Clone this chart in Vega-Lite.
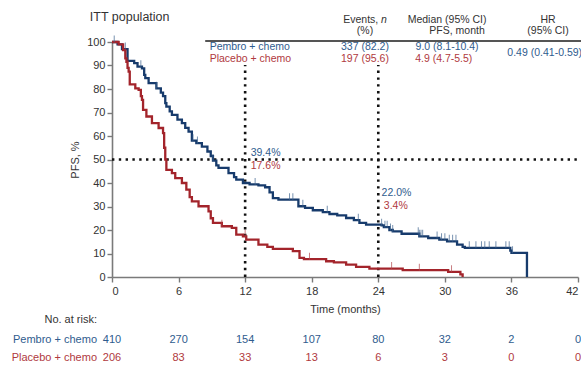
{
  "$schema": "https://vega.github.io/schema/vega-lite/v6.json",
  "width": 466,
  "height": 235,
  "autosize": "none",
  "padding": {"left": 112, "top": 42, "right": 3, "bottom": 88},
  "background": "white",
  "config": {
    "view": {"stroke": null},
    "font": "Liberation Sans",
    "text": {"font": "Liberation Sans", "fontSize": 11},
    "axis": {"labelFont": "Liberation Sans", "titleFont": "Liberation Sans"}
  },
  "encoding": {
    "x": {
      "field": "t", "type": "quantitative",
      "scale": {"domain": [0, 42], "nice": false, "zero": false},
      "axis": {"values": [0, 6, 12, 18, 24, 30, 36, 42], "title": "Time (months)", "grid": false,
        "domainColor": "#7a7a7a", "domainWidth": 1.6, "tickColor": "#7a7a7a", "tickWidth": 1.4, "tickSize": 5,
        "labelFontSize": 11, "labelColor": "#333", "labelPadding": 3, "titleFontSize": 11,
        "titleFontWeight": "normal", "titleColor": "#333", "titlePadding": 7}
    },
    "y": {
      "field": "s", "type": "quantitative",
      "scale": {"domain": [0, 100], "nice": false, "zero": false},
      "axis": {"values": [0, 10, 20, 30, 40, 50, 60, 70, 80, 90, 100], "title": "PFS, %", "grid": false,
        "domainColor": "#7a7a7a", "domainWidth": 1.6, "tickColor": "#7a7a7a", "tickWidth": 1.4, "tickSize": 5,
        "labelFontSize": 11, "labelColor": "#333", "labelPadding": 2, "titleFontSize": 11,
        "titleFontWeight": "normal", "titleColor": "#333", "titlePadding": 6}
    }
  },
  "layer": [
    {
      "data": {"values": [
        {"t": 0, "t2": 42.3, "s": 50, "s2": 50},
        {"t": 12, "t2": 12, "s": 0, "s2": 90.2},
        {"t": 24, "t2": 24, "s": 0, "s2": 90.2}
      ]},
      "mark": {"type": "rule", "color": "#111", "strokeWidth": 2.6, "strokeDash": [2.4, 4.4]},
      "encoding": {"x2": {"field": "t2"}, "y2": {"field": "s2"}}
    },
    {
      "data": {"values": [{"t": 8.4, "t2": 42.3, "s": 100.4, "s2": 100.4}]},
      "mark": {"type": "rule", "color": "#555", "strokeWidth": 2},
      "encoding": {"x2": {"field": "t2"}, "y2": {"field": "s2"}}
    },
    {
      "data": {"values": [
        {"grp": "Pembro + chemo", "t": 0, "s": 100}, {"grp": "Pembro + chemo", "t": 0.5, "s": 99},
        {"grp": "Pembro + chemo", "t": 0.9, "s": 97}, {"grp": "Pembro + chemo", "t": 1.4, "s": 92},
        {"grp": "Pembro + chemo", "t": 2.0, "s": 91}, {"grp": "Pembro + chemo", "t": 2.3, "s": 89.5},
        {"grp": "Pembro + chemo", "t": 2.7, "s": 88.8}, {"grp": "Pembro + chemo", "t": 2.9, "s": 86},
        {"grp": "Pembro + chemo", "t": 3.0, "s": 84.6}, {"grp": "Pembro + chemo", "t": 3.3, "s": 82.5},
        {"grp": "Pembro + chemo", "t": 4.0, "s": 80.3}, {"grp": "Pembro + chemo", "t": 4.4, "s": 78.5},
        {"grp": "Pembro + chemo", "t": 4.6, "s": 77}, {"grp": "Pembro + chemo", "t": 4.8, "s": 74},
        {"grp": "Pembro + chemo", "t": 4.9, "s": 72.5}, {"grp": "Pembro + chemo", "t": 5.2, "s": 70.5},
        {"grp": "Pembro + chemo", "t": 5.4, "s": 69}, {"grp": "Pembro + chemo", "t": 5.9, "s": 67},
        {"grp": "Pembro + chemo", "t": 6.3, "s": 65.5}, {"grp": "Pembro + chemo", "t": 6.6, "s": 63.5},
        {"grp": "Pembro + chemo", "t": 6.9, "s": 61.9}, {"grp": "Pembro + chemo", "t": 7.2, "s": 58},
        {"grp": "Pembro + chemo", "t": 7.6, "s": 57}, {"grp": "Pembro + chemo", "t": 8.1, "s": 55.5},
        {"grp": "Pembro + chemo", "t": 8.6, "s": 53.4}, {"grp": "Pembro + chemo", "t": 8.9, "s": 51.5},
        {"grp": "Pembro + chemo", "t": 9.1, "s": 49.5}, {"grp": "Pembro + chemo", "t": 9.4, "s": 47.5},
        {"grp": "Pembro + chemo", "t": 9.6, "s": 46.4}, {"grp": "Pembro + chemo", "t": 10.5, "s": 44.2},
        {"grp": "Pembro + chemo", "t": 11.0, "s": 42.5}, {"grp": "Pembro + chemo", "t": 11.2, "s": 41.4},
        {"grp": "Pembro + chemo", "t": 11.8, "s": 40}, {"grp": "Pembro + chemo", "t": 12.4, "s": 39.4},
        {"grp": "Pembro + chemo", "t": 13.2, "s": 39}, {"grp": "Pembro + chemo", "t": 13.8, "s": 38.2},
        {"grp": "Pembro + chemo", "t": 14.2, "s": 36}, {"grp": "Pembro + chemo", "t": 14.5, "s": 33.6},
        {"grp": "Pembro + chemo", "t": 15.0, "s": 32.9}, {"grp": "Pembro + chemo", "t": 16.8, "s": 30.1},
        {"grp": "Pembro + chemo", "t": 17.4, "s": 29.4}, {"grp": "Pembro + chemo", "t": 18.1, "s": 28.4},
        {"grp": "Pembro + chemo", "t": 19.0, "s": 27.6}, {"grp": "Pembro + chemo", "t": 19.6, "s": 26.8},
        {"grp": "Pembro + chemo", "t": 20.3, "s": 26.2}, {"grp": "Pembro + chemo", "t": 21.1, "s": 25.1},
        {"grp": "Pembro + chemo", "t": 21.8, "s": 24.2}, {"grp": "Pembro + chemo", "t": 22.3, "s": 23},
        {"grp": "Pembro + chemo", "t": 22.9, "s": 22.3}, {"grp": "Pembro + chemo", "t": 24.3, "s": 22.0},
        {"grp": "Pembro + chemo", "t": 24.5, "s": 21.2}, {"grp": "Pembro + chemo", "t": 25.0, "s": 20},
        {"grp": "Pembro + chemo", "t": 25.3, "s": 19.4}, {"grp": "Pembro + chemo", "t": 26.1, "s": 18.4},
        {"grp": "Pembro + chemo", "t": 27.7, "s": 17.3}, {"grp": "Pembro + chemo", "t": 28.5, "s": 16.6},
        {"grp": "Pembro + chemo", "t": 29.5, "s": 15.9}, {"grp": "Pembro + chemo", "t": 30.2, "s": 15.2},
        {"grp": "Pembro + chemo", "t": 31.1, "s": 13.8}, {"grp": "Pembro + chemo", "t": 31.6, "s": 12.8},
        {"grp": "Pembro + chemo", "t": 31.8, "s": 12.4}, {"grp": "Pembro + chemo", "t": 35.9, "s": 11.2},
        {"grp": "Pembro + chemo", "t": 36.0, "s": 10.3}, {"grp": "Pembro + chemo", "t": 37.4, "s": 0},
        {"grp": "Placebo + chemo", "t": 0, "s": 100}, {"grp": "Placebo + chemo", "t": 0.6, "s": 99},
        {"grp": "Placebo + chemo", "t": 1.0, "s": 96.6}, {"grp": "Placebo + chemo", "t": 1.2, "s": 93},
        {"grp": "Placebo + chemo", "t": 1.3, "s": 91.6}, {"grp": "Placebo + chemo", "t": 1.4, "s": 89},
        {"grp": "Placebo + chemo", "t": 1.5, "s": 87.4}, {"grp": "Placebo + chemo", "t": 1.6, "s": 82},
        {"grp": "Placebo + chemo", "t": 2.1, "s": 80.3}, {"grp": "Placebo + chemo", "t": 2.4, "s": 79.6},
        {"grp": "Placebo + chemo", "t": 2.6, "s": 77}, {"grp": "Placebo + chemo", "t": 2.7, "s": 75.4},
        {"grp": "Placebo + chemo", "t": 2.8, "s": 71.1}, {"grp": "Placebo + chemo", "t": 3.1, "s": 68.3},
        {"grp": "Placebo + chemo", "t": 3.6, "s": 65.5}, {"grp": "Placebo + chemo", "t": 4.2, "s": 63.4},
        {"grp": "Placebo + chemo", "t": 4.6, "s": 61.2}, {"grp": "Placebo + chemo", "t": 4.7, "s": 55},
        {"grp": "Placebo + chemo", "t": 4.8, "s": 50}, {"grp": "Placebo + chemo", "t": 4.9, "s": 45.6},
        {"grp": "Placebo + chemo", "t": 5.4, "s": 44.2}, {"grp": "Placebo + chemo", "t": 5.7, "s": 42.1},
        {"grp": "Placebo + chemo", "t": 6.3, "s": 40}, {"grp": "Placebo + chemo", "t": 6.7, "s": 37.2},
        {"grp": "Placebo + chemo", "t": 7.0, "s": 34}, {"grp": "Placebo + chemo", "t": 7.2, "s": 32.2},
        {"grp": "Placebo + chemo", "t": 7.8, "s": 30.1}, {"grp": "Placebo + chemo", "t": 8.7, "s": 27.9},
        {"grp": "Placebo + chemo", "t": 8.9, "s": 25}, {"grp": "Placebo + chemo", "t": 9.1, "s": 23},
        {"grp": "Placebo + chemo", "t": 9.9, "s": 21.6}, {"grp": "Placebo + chemo", "t": 10.8, "s": 20.9},
        {"grp": "Placebo + chemo", "t": 11.2, "s": 18}, {"grp": "Placebo + chemo", "t": 11.8, "s": 17.3},
        {"grp": "Placebo + chemo", "t": 12.1, "s": 15.9}, {"grp": "Placebo + chemo", "t": 13.2, "s": 13.8},
        {"grp": "Placebo + chemo", "t": 14.0, "s": 12.8}, {"grp": "Placebo + chemo", "t": 14.5, "s": 12},
        {"grp": "Placebo + chemo", "t": 16.3, "s": 11}, {"grp": "Placebo + chemo", "t": 16.9, "s": 8.1},
        {"grp": "Placebo + chemo", "t": 17.3, "s": 7.6}, {"grp": "Placebo + chemo", "t": 19.3, "s": 6.7},
        {"grp": "Placebo + chemo", "t": 20.0, "s": 6.2}, {"grp": "Placebo + chemo", "t": 21.1, "s": 5.3},
        {"grp": "Placebo + chemo", "t": 22.0, "s": 4.3}, {"grp": "Placebo + chemo", "t": 23.2, "s": 3.6},
        {"grp": "Placebo + chemo", "t": 26.2, "s": 2.9}, {"grp": "Placebo + chemo", "t": 30.3, "s": 2.2},
        {"grp": "Placebo + chemo", "t": 31.4, "s": 1.1}, {"grp": "Placebo + chemo", "t": 31.6, "s": 0}
      ]},
      "mark": {"type": "line", "interpolate": "step-after", "strokeWidth": 2.3},
      "encoding": {
        "color": {"field": "grp", "type": "nominal", "legend": null,
          "scale": {"domain": ["Pembro + chemo", "Placebo + chemo"], "range": ["#173b6c", "#a3242b"]}}
      }
    },
    {
      "data": {"values": [
        {"grp": "Pembro + chemo", "t": 0.2, "s": 100}, {"grp": "Pembro + chemo", "t": 1.2, "s": 97},
        {"grp": "Pembro + chemo", "t": 2.6, "s": 89.5}, {"grp": "Pembro + chemo", "t": 4.0, "s": 80.3},
        {"grp": "Pembro + chemo", "t": 7.3, "s": 58}, {"grp": "Pembro + chemo", "t": 7.7, "s": 57},
        {"grp": "Pembro + chemo", "t": 9.1, "s": 49.5}, {"grp": "Pembro + chemo", "t": 12.9, "s": 39.4},
        {"grp": "Pembro + chemo", "t": 16.0, "s": 32.9}, {"grp": "Pembro + chemo", "t": 16.3, "s": 32.9},
        {"grp": "Pembro + chemo", "t": 17.2, "s": 30.1}, {"grp": "Pembro + chemo", "t": 19.4, "s": 27.6},
        {"grp": "Pembro + chemo", "t": 22.2, "s": 24.2}, {"grp": "Pembro + chemo", "t": 24.3, "s": 22.0},
        {"grp": "Pembro + chemo", "t": 24.6, "s": 21.2}, {"grp": "Pembro + chemo", "t": 24.8, "s": 21.2},
        {"grp": "Pembro + chemo", "t": 25.1, "s": 20}, {"grp": "Pembro + chemo", "t": 25.3, "s": 19.4},
        {"grp": "Pembro + chemo", "t": 27.6, "s": 18.4}, {"grp": "Pembro + chemo", "t": 27.7, "s": 17.3},
        {"grp": "Pembro + chemo", "t": 27.85, "s": 17.3}, {"grp": "Pembro + chemo", "t": 28.0, "s": 17.3},
        {"grp": "Pembro + chemo", "t": 29.3, "s": 16.6}, {"grp": "Pembro + chemo", "t": 29.7, "s": 15.9},
        {"grp": "Pembro + chemo", "t": 30.0, "s": 15.9}, {"grp": "Pembro + chemo", "t": 30.4, "s": 15.2},
        {"grp": "Pembro + chemo", "t": 30.7, "s": 15.2}, {"grp": "Pembro + chemo", "t": 31.0, "s": 15.2},
        {"grp": "Pembro + chemo", "t": 32.2, "s": 12.4}, {"grp": "Pembro + chemo", "t": 32.8, "s": 12.4},
        {"grp": "Pembro + chemo", "t": 33.3, "s": 12.4}, {"grp": "Pembro + chemo", "t": 33.6, "s": 12.4},
        {"grp": "Pembro + chemo", "t": 34.0, "s": 12.4}, {"grp": "Pembro + chemo", "t": 34.6, "s": 12.4},
        {"grp": "Pembro + chemo", "t": 35.5, "s": 12.4}, {"grp": "Pembro + chemo", "t": 35.8, "s": 12.4},
        {"grp": "Pembro + chemo", "t": 36.1, "s": 10.3},
        {"grp": "Placebo + chemo", "t": 9.9, "s": 21.6}, {"grp": "Placebo + chemo", "t": 12.0, "s": 17.3},
        {"grp": "Placebo + chemo", "t": 17.8, "s": 7.6}, {"grp": "Placebo + chemo", "t": 25.2, "s": 3.6},
        {"grp": "Placebo + chemo", "t": 27.7, "s": 2.9}, {"grp": "Placebo + chemo", "t": 30.6, "s": 2.2}
      ]},
      "mark": {"type": "tick", "orient": "vertical", "size": 7, "thickness": 1, "yOffset": -3},
      "encoding": {
        "color": {"field": "grp", "type": "nominal", "legend": null,
          "scale": {"domain": ["Pembro + chemo", "Placebo + chemo"], "range": ["#3f648f", "#b0474d"]}}
      }
    },
    {
      "data": {"values": [
        {"grp": "head", "label": "(%)", "t": 22.8, "s": 104.7},
        {"grp": "head", "label": "Median (95% CI)", "t": 30.2, "s": 109.3},
        {"grp": "head", "label": "PFS, month", "t": 31.1, "s": 104.7},
        {"grp": "head", "label": "HR", "t": 39.3, "s": 109.3},
        {"grp": "head", "label": "(95% CI)", "t": 39.3, "s": 104.7},
        {"grp": "pembro", "label": "337 (82.2)", "t": 22.8, "s": 98},
        {"grp": "pembro", "label": "9.0 (8.1-10.4)", "t": 30.2, "s": 98},
        {"grp": "pembro", "label": "0.49 (0.41-0.59)", "t": 39.0, "s": 95.5},
        {"grp": "placebo", "label": "197 (95.6)", "t": 22.8, "s": 92.9},
        {"grp": "placebo", "label": "4.9 (4.7-5.5)", "t": 29.9, "s": 92.9}
      ]},
      "mark": {"type": "text", "align": "center", "baseline": "middle", "fontSize": 10.5},
      "encoding": {
        "text": {"field": "label"},
        "color": {"field": "grp", "type": "nominal", "legend": null,
          "scale": {"domain": ["pembro", "placebo", "head"], "range": ["#2f5c8e", "#b0393e", "#333333"]}}
      }
    },
    {
      "data": {"values": [
        {"grp": "pembro", "label": "410", "t": 0, "s": -26.6},
        {"grp": "pembro", "label": "270", "t": 6, "s": -26.6},
        {"grp": "pembro", "label": "154", "t": 12, "s": -26.6},
        {"grp": "pembro", "label": "107", "t": 18, "s": -26.6},
        {"grp": "pembro", "label": "80", "t": 24, "s": -26.6},
        {"grp": "pembro", "label": "32", "t": 30, "s": -26.6},
        {"grp": "pembro", "label": "2", "t": 36, "s": -26.6},
        {"grp": "pembro", "label": "0", "t": 42, "s": -26.6},
        {"grp": "placebo", "label": "206", "t": 0, "s": -34.6},
        {"grp": "placebo", "label": "83", "t": 6, "s": -34.6},
        {"grp": "placebo", "label": "33", "t": 12, "s": -34.6},
        {"grp": "placebo", "label": "13", "t": 18, "s": -34.6},
        {"grp": "placebo", "label": "6", "t": 24, "s": -34.6},
        {"grp": "placebo", "label": "3", "t": 30, "s": -34.6},
        {"grp": "placebo", "label": "0", "t": 36, "s": -34.6},
        {"grp": "placebo", "label": "0", "t": 42, "s": -34.6}
      ]},
      "mark": {"type": "text", "align": "center", "baseline": "middle", "fontSize": 11},
      "encoding": {
        "text": {"field": "label"},
        "color": {"field": "grp", "type": "nominal", "legend": null,
          "scale": {"domain": ["pembro", "placebo", "head"], "range": ["#2f5c8e", "#b0393e", "#333333"]}}
      }
    },
    {
      "data": {"values": [
        {"grp": "pembro", "label": "Pembro + chemo", "t": 8.8, "s": 98},
        {"grp": "placebo", "label": "Placebo + chemo", "t": 8.8, "s": 92.9},
        {"grp": "pembro", "label": "39.4%", "t": 12.5, "s": 52.6},
        {"grp": "placebo", "label": "17.6%", "t": 12.5, "s": 47.4},
        {"grp": "pembro", "label": "22.0%", "t": 24.3, "s": 35.9},
        {"grp": "placebo", "label": "3.4%", "t": 24.5, "s": 30.4}
      ]},
      "mark": {"type": "text", "align": "left", "baseline": "middle", "fontSize": 10.5},
      "encoding": {
        "text": {"field": "label"},
        "color": {"field": "grp", "type": "nominal", "legend": null,
          "scale": {"domain": ["pembro", "placebo", "head"], "range": ["#2f5c8e", "#b0393e", "#333333"]}}
      }
    },
    {
      "data": {"values": [{"label": "ITT population", "t": -2.0, "s": 110.6}]},
      "mark": {"type": "text", "align": "left", "baseline": "middle", "fontSize": 12.5, "color": "#333333"},
      "encoding": {"text": {"field": "label"}}
    },
    {
      "data": {"values": [
        {"grp": "head", "label": "Events,", "t": 24.0, "s": 109.3}
      ]},
      "mark": {"type": "text", "align": "right", "baseline": "middle", "fontSize": 10.5, "color": "#333333"},
      "encoding": {"text": {"field": "label"}}
    },
    {
      "data": {"values": [
        {"grp": "head", "label": "No. at risk:", "t": -1.35, "s": -18.3},
        {"grp": "pembro", "label": "Pembro + chemo", "t": -1.35, "s": -26.6},
        {"grp": "placebo", "label": "Placebo + chemo", "t": -1.35, "s": -34.6}
      ]},
      "mark": {"type": "text", "align": "right", "baseline": "middle", "fontSize": 11},
      "encoding": {
        "text": {"field": "label"},
        "color": {"field": "grp", "type": "nominal", "legend": null,
          "scale": {"domain": ["pembro", "placebo", "head"], "range": ["#2f5c8e", "#b0393e", "#333333"]}}
      }
    },
    {
      "data": {"values": [{"label": "n", "t": 24.25, "s": 109.3}]},
      "mark": {"type": "text", "align": "left", "baseline": "middle", "fontSize": 10.5, "fontStyle": "italic", "color": "#333333"},
      "encoding": {"text": {"field": "label"}}
    }
  ],
  "resolve": {"scale": {"color": "independent"}}
}
